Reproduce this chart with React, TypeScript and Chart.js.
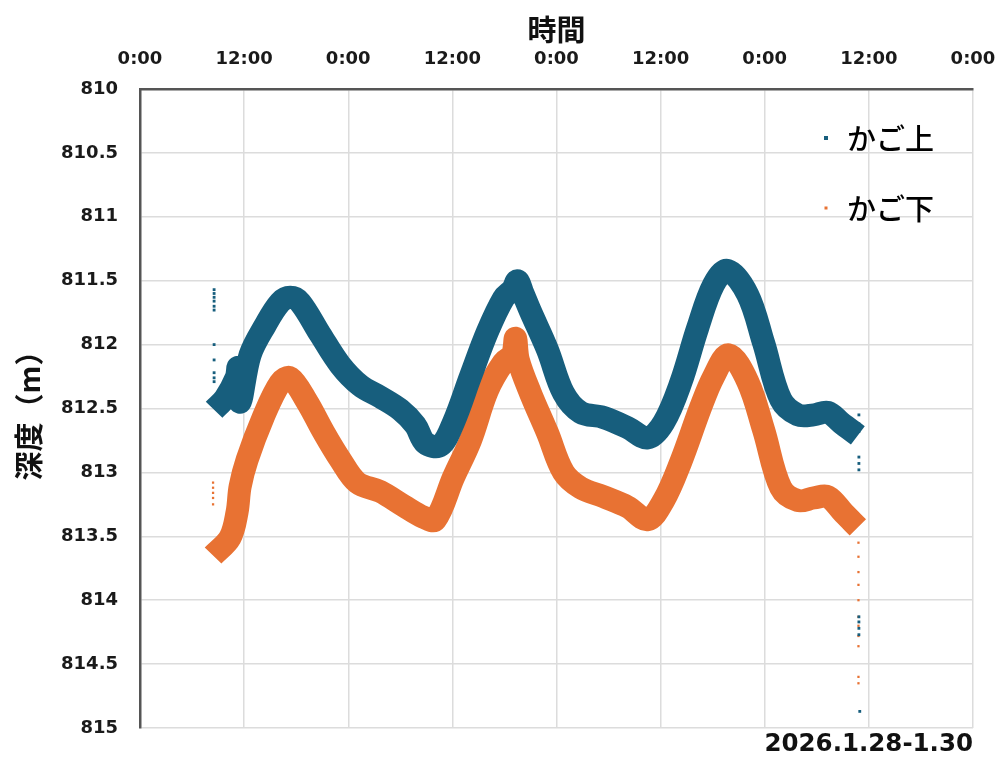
import React, { useEffect, useRef } from "react";
import { Chart, registerables } from "chart.js";

Chart.register(...registerables);

// ---------- data ----------
const SERIES_NAMES = ["かご上", "かご下"];
const X_TITLE = "時間";
const Y_TITLE = "深度（m）";
const DATE_LABEL = "2026.1.28-1.30";
const X_TICK_LABELS = ["0:00", "12:00", "0:00", "12:00", "0:00", "12:00", "0:00", "12:00", "0:00"];
const X_MIN = 0;
const X_MAX = 96;
const X_STEP = 12;
const Y_MIN = 810;
const Y_MAX = 815;
const Y_STEP = 0.5;

// かご上 (upper basket) main trace: hours since start, depth (m)
const UPPER_HOURS = [8.54, 9.81, 11.08, 11.3, 11.54, 12.69, 14.42, 16.15, 17.31, 18.46, 20.77, 23.08, 25.38, 27.69, 30.0, 31.73, 32.88, 34.61, 36.12, 38.08, 40.04, 41.88, 42.92, 43.5, 44.08, 45.0, 46.96, 48.81, 50.77, 53.42, 56.19, 58.5, 60.35, 62.31, 64.27, 66.11, 67.73, 70.04, 71.88, 73.85, 75.81, 77.65, 79.27, 80.77, 82.73];
const UPPER_DEPTH = [812.51, 812.42, 812.26, 812.18, 812.45, 812.08, 811.85, 811.67, 811.63, 811.67, 811.92, 812.16, 812.32, 812.41, 812.51, 812.63, 812.77, 812.79, 812.61, 812.25, 811.9, 811.64, 811.57, 811.5, 811.59, 811.74, 812.04, 812.38, 812.53, 812.57, 812.65, 812.73, 812.61, 812.3, 811.87, 811.53, 811.42, 811.61, 811.99, 812.43, 812.55, 812.55, 812.53, 812.61, 812.71];

// かご下 (lower basket) main trace
const LOWER_HOURS = [8.42, 10.38, 11.19, 11.54, 12.35, 14.19, 16.15, 17.31, 19.27, 21.12, 23.08, 25.04, 27.69, 30.35, 32.65, 34.04, 36.12, 38.08, 40.04, 41.88, 42.92, 43.27, 43.6, 45.0, 46.96, 48.81, 50.77, 53.42, 56.19, 58.5, 60.35, 62.31, 64.62, 66.11, 67.85, 70.04, 71.88, 73.85, 75.81, 77.65, 79.27, 81.12, 82.73];
const LOWER_DEPTH = [813.65, 813.51, 813.31, 813.11, 812.9, 812.57, 812.3, 812.26, 812.45, 812.68, 812.9, 813.08, 813.15, 813.26, 813.35, 813.37, 813.04, 812.75, 812.36, 812.14, 812.08, 811.95, 812.12, 812.38, 812.69, 813.0, 813.12, 813.19, 813.27, 813.37, 813.22, 812.92, 812.49, 812.25, 812.08, 812.29, 812.67, 813.12, 813.22, 813.2, 813.19, 813.32, 813.43];

// isolated readings at the start and end of the record
const UPPER_STRAY_HOURS = [8.54, 8.54, 8.54, 8.54, 8.54, 8.54, 8.54, 8.54, 8.54, 8.54, 8.54, 82.85, 82.85, 82.85, 82.85, 82.85, 82.85, 82.85, 82.85, 82.85, 82.85, 82.95];
const UPPER_STRAY_DEPTH = [811.57, 811.6, 811.63, 811.66, 811.7, 811.73, 812.0, 812.12, 812.22, 812.26, 812.29, 812.55, 812.62, 812.68, 812.88, 812.93, 812.98, 814.13, 814.17, 814.22, 814.27, 814.87];
const LOWER_STRAY_HOURS = [8.42, 8.42, 8.42, 8.42, 8.42, 82.8, 82.8, 82.8, 82.8, 82.8, 82.8, 82.8, 82.8, 82.8, 82.8, 82.8];
const LOWER_STRAY_DEPTH = [813.08, 813.12, 813.16, 813.2, 813.25, 813.55, 813.66, 813.78, 813.88, 814.0, 814.13, 814.2, 814.28, 814.36, 814.6, 814.65];

const UPPER_COLOR = "#175e7d";
const LOWER_COLOR = "#e87233";

const toPoints = (xs: number[], ys: number[]) => xs.map((x, i) => ({ x, y: ys[i] }));

const CJK = '"Noto Sans CJK JP", "Noto Sans", sans-serif';
const NUM = '"DejaVu Sans", "Liberation Sans", sans-serif';

const overlayPlugin = {
  id: "overlay",
  afterDraw(chart: any) {
    const { ctx, chartArea } = chart;
    ctx.save();
    const items = [
      { name: SERIES_NAMES[0], color: UPPER_COLOR, size: 4 },
      { name: SERIES_NAMES[1], color: LOWER_COLOR, size: 3 },
    ];
    items.forEach((it, i) => {
      const y = 138 + i * 70;
      ctx.fillStyle = it.color;
      ctx.fillRect(826 - it.size / 2, y - it.size / 2, it.size, it.size);
      ctx.fillStyle = "#000";
      ctx.font = `500 29px ${CJK}`;
      ctx.textAlign = "left";
      ctx.textBaseline = "middle";
      ctx.fillText(it.name, 847, y + 1);
    });
    ctx.fillStyle = "#111";
    ctx.font = `bold 24.5px ${NUM}`;
    ctx.textAlign = "right";
    ctx.textBaseline = "middle";
    ctx.fillText(DATE_LABEL, chartArea.right, 745);
    ctx.restore();
  },
};

export default function App() {
  const canvasRef = useRef<HTMLCanvasElement | null>(null);

  useEffect(() => {
    document.body.style.margin = "0";
    const canvas = canvasRef.current;
    if (!canvas) return;
    const lineDs = (label: string, hours: number[], depth: number[], color: string) => ({
      label,
      data: toPoints(hours, depth),
      borderColor: color,
      backgroundColor: color,
      borderWidth: 23,
      borderJoinStyle: "round",
      borderCapStyle: "butt",
      pointRadius: 0,
      tension: 0.35,
      fill: false,
    });
    const chart = new Chart(canvas, {
      type: "line",
      data: {
        datasets: [
          lineDs(SERIES_NAMES[0], UPPER_HOURS, UPPER_DEPTH, UPPER_COLOR),
          lineDs(SERIES_NAMES[1], LOWER_HOURS, LOWER_DEPTH, LOWER_COLOR),
          {
            label: "upper-stray",
            data: toPoints(UPPER_STRAY_HOURS, UPPER_STRAY_DEPTH),
            showLine: false,
            pointStyle: "rect",
            pointRadius: 2,
            pointBorderWidth: 0,
            pointBackgroundColor: UPPER_COLOR,
            borderColor: UPPER_COLOR,
          },
          {
            label: "lower-stray",
            data: toPoints(LOWER_STRAY_HOURS, LOWER_STRAY_DEPTH),
            showLine: false,
            pointStyle: "rect",
            pointRadius: 1.6,
            pointBorderWidth: 0,
            pointBackgroundColor: LOWER_COLOR,
            borderColor: LOWER_COLOR,
          },
        ],
      },
      options: {
        animation: false,
        responsive: false,
        devicePixelRatio: 1,
        layout: { padding: { left: 0, top: 0, right: 25, bottom: 30 } },
        plugins: {
          legend: { display: false },
          tooltip: { enabled: false },
        },
        scales: {
          x: {
            type: "linear",
            position: "top",
            min: X_MIN,
            max: X_MAX,
            afterBuildTicks: (scale: any) => {
              const t = [];
              for (let v = X_MIN; v <= X_MAX; v += X_STEP) t.push({ value: v });
              scale.ticks = t;
            },
            afterFit: (scale: any) => {
              scale.height = 89;
              scale.paddingLeft = 0;
              scale.paddingRight = 0;
            },
            ticks: {
              callback: (_v: any, i: number) => X_TICK_LABELS[i],
              color: "#1a1a1a",
              font: { family: NUM, size: 18, weight: "bold" },
              padding: 19,
              maxRotation: 0,
              autoSkip: false,
            },
            grid: { color: "#dcdcdc", lineWidth: 1.5, drawTicks: false },
            border: { color: "#555", width: 2.5 },
            title: {
              display: true,
              text: X_TITLE,
              color: "#111",
              font: { family: CJK, size: 29, weight: "bold" },
              padding: { top: 13, bottom: 0 },
            },
          },
          y: {
            type: "linear",
            reverse: true,
            min: Y_MIN,
            max: Y_MAX,
            afterFit: (scale: any) => {
              scale.width = 140;
              scale.paddingTop = 0;
              scale.paddingBottom = 0;
            },
            ticks: {
              stepSize: Y_STEP,
              callback: (v: any) => String(Math.round(Number(v) * 10) / 10),
              color: "#1a1a1a",
              font: { family: NUM, size: 18, weight: "bold" },
              padding: 22,
            },
            grid: { color: "#dcdcdc", lineWidth: 1.5, drawTicks: false },
            border: { color: "#555", width: 2.5 },
            title: {
              display: true,
              text: Y_TITLE,
              color: "#111",
              font: { family: CJK, size: 29, weight: "bold" },
              padding: { top: 12, bottom: 0 },
            },
          },
        },
      },
      plugins: [overlayPlugin],
    } as any);
    return () => chart.destroy();
  }, []);

  return (
    <div style={{ position: "fixed", left: 0, top: 0, width: 998, height: 758, background: "#fff" }}>
      <canvas ref={canvasRef} width={998} height={758} style={{ width: 998, height: 758 }} />
    </div>
  );
}
